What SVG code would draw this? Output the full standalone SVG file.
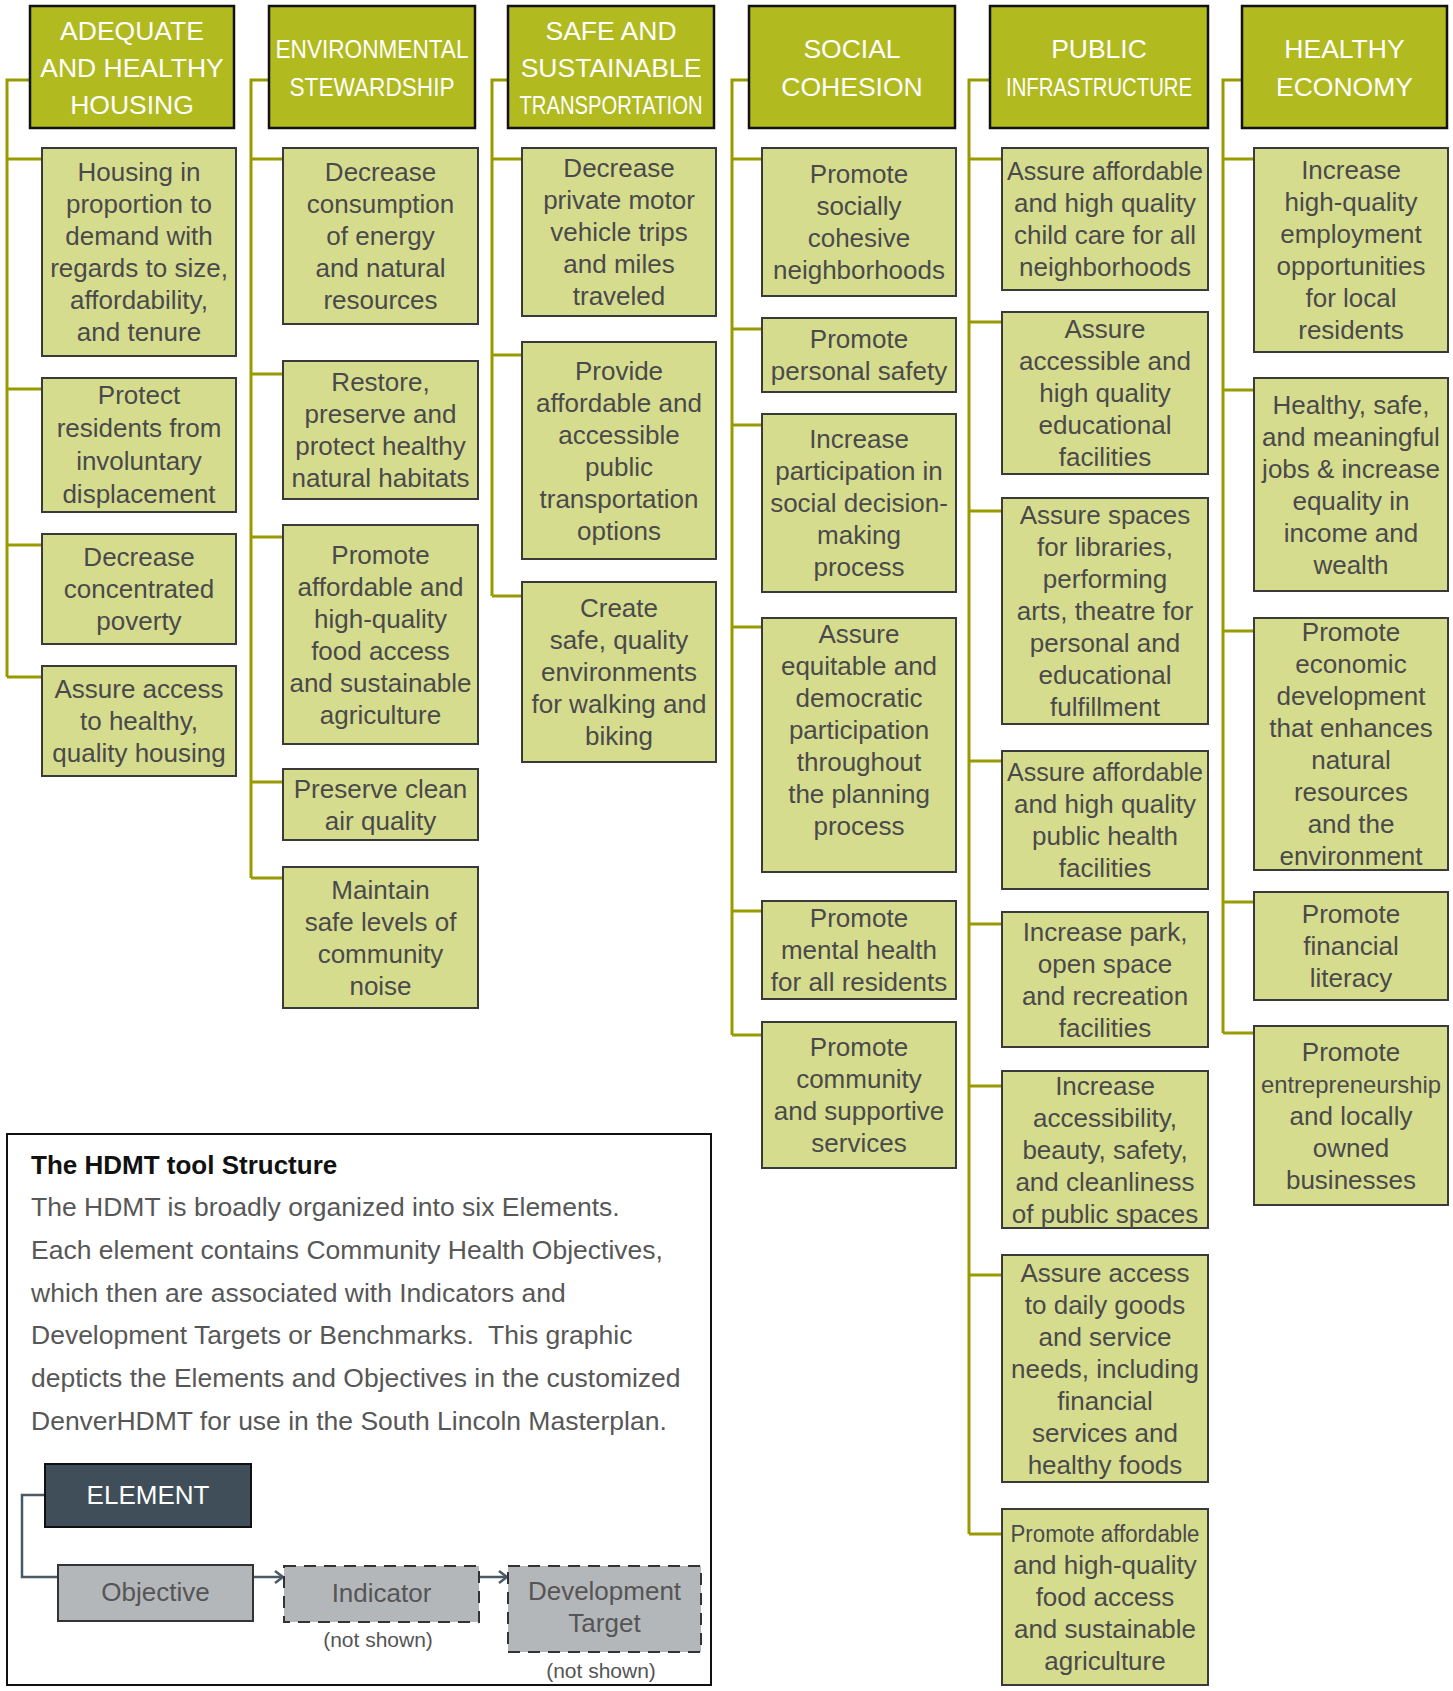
<svg xmlns="http://www.w3.org/2000/svg" width="1453" height="1691" viewBox="0 0 1453 1691">
<style>
text{font-family:"Liberation Sans",Arial,sans-serif;text-anchor:middle}
.hdr{fill:#b1ba1f;stroke:#111;stroke-width:2.5}
.obj{fill:#d6dc8e;stroke:#3a3a3a;stroke-width:2}
.ht{fill:#fff;font-size:26.5px}
.ot{fill:#4a4a4a;font-size:26px}
.conn{fill:none;stroke:#999900;stroke-width:3}
.lg{fill:none;stroke:#4a5a64;stroke-width:2.5}
.lt{fill:#575757;font-size:26.5px;text-anchor:start}
</style>
<defs>
<marker id="chev" markerWidth="12" markerHeight="14" refX="10" refY="7" orient="auto" markerUnits="userSpaceOnUse">
<path d="M2,1 L10,7 L2,13" fill="none" stroke="#4a5a64" stroke-width="2.5"/>
</marker>
</defs>
<rect width="1453" height="1691" fill="#fff"/>

<g id="connectors" class="conn">
<path d="M30,80 H7 V677 M7,159 H42 M7,389 H42 M7,545 H42 M7,677 H42"/>
<path d="M269,80 H251 V878 M251,159 H283 M251,374 H283 M251,537 H283 M251,782 H283 M251,878 H283"/>
<path d="M508,80 H492 V596 M492,159 H522 M492,355 H522 M492,596 H522"/>
<path d="M749,80 H732 V1035 M732,159 H762 M732,329 H762 M732,425 H762 M732,627 H762 M732,911 H762 M732,1035 H762"/>
<path d="M990,80 H969 V1534 M969,159 H1002 M969,322 H1002 M969,511 H1002 M969,761 H1002 M969,924 H1002 M969,1086 H1002 M969,1275 H1002 M969,1534 H1002"/>
<path d="M1242,80 H1223 V1033 M1223,159 H1254 M1223,390 H1254 M1223,631 H1254 M1223,902 H1254 M1223,1033 H1254"/>
</g>

<!-- Column 1 -->
<g id="h1"><rect class="hdr" x="30" y="6" width="204" height="122"/>
<text class="ht"><tspan x="132" y="40">ADEQUATE</tspan><tspan x="132" y="77">AND HEALTHY</tspan><tspan x="132" y="114">HOUSING</tspan></text></g>
<g id="o1-1"><rect class="obj" x="42" y="148" width="194" height="208"/>
<text class="ot"><tspan x="139" y="181">Housing in</tspan><tspan x="139" y="213">proportion to</tspan><tspan x="139" y="245">demand with</tspan><tspan x="139" y="277">regards to size,</tspan><tspan x="139" y="309">affordability,</tspan><tspan x="139" y="341">and tenure</tspan></text></g>
<g id="o1-2"><rect class="obj" x="42" y="378" width="194" height="134"/>
<text class="ot"><tspan x="139" y="404">Protect</tspan><tspan x="139" y="437">residents from</tspan><tspan x="139" y="470">involuntary</tspan><tspan x="139" y="503">displacement</tspan></text></g>
<g id="o1-3"><rect class="obj" x="42" y="534" width="194" height="110"/>
<text class="ot"><tspan x="139" y="566">Decrease</tspan><tspan x="139" y="598">concentrated</tspan><tspan x="139" y="630">poverty</tspan></text></g>
<g id="o1-4"><rect class="obj" x="42" y="666" width="194" height="110"/>
<text class="ot"><tspan x="139" y="698">Assure access</tspan><tspan x="139" y="730">to healthy,</tspan><tspan x="139" y="762">quality housing</tspan></text></g>

<!-- Column 2 -->
<g id="h2"><rect class="hdr" x="269" y="6" width="206" height="122"/>
<text class="ht"><tspan x="372" y="58" textLength="193" lengthAdjust="spacingAndGlyphs">ENVIRONMENTAL</tspan></text>
<text class="ht"><tspan x="372" y="96" textLength="165" lengthAdjust="spacingAndGlyphs">STEWARDSHIP</tspan></text></g>
<g id="o2-1"><rect class="obj" x="283" y="148" width="195" height="176"/>
<text class="ot"><tspan x="380.5" y="181">Decrease</tspan><tspan x="380.5" y="213">consumption</tspan><tspan x="380.5" y="245">of energy</tspan><tspan x="380.5" y="277">and natural</tspan><tspan x="380.5" y="309">resources</tspan></text></g>
<g id="o2-2"><rect class="obj" x="283" y="361" width="195" height="138"/>
<text class="ot"><tspan x="380.5" y="391">Restore,</tspan><tspan x="380.5" y="423">preserve and</tspan><tspan x="380.5" y="455">protect healthy</tspan><tspan x="380.5" y="487">natural habitats</tspan></text></g>
<g id="o2-3"><rect class="obj" x="283" y="525" width="195" height="219"/>
<text class="ot"><tspan x="380.5" y="563.5">Promote</tspan><tspan x="380.5" y="595.5">affordable and</tspan><tspan x="380.5" y="627.5">high-quality</tspan><tspan x="380.5" y="659.5">food access</tspan><tspan x="380.5" y="691.5">and sustainable</tspan><tspan x="380.5" y="723.5">agriculture</tspan></text></g>
<g id="o2-4"><rect class="obj" x="283" y="769" width="195" height="71"/>
<text class="ot"><tspan x="380.5" y="797.5">Preserve clean</tspan><tspan x="380.5" y="829.5">air quality</tspan></text></g>
<g id="o2-5"><rect class="obj" x="283" y="867" width="195" height="141"/>
<text class="ot"><tspan x="380.5" y="898.5">Maintain</tspan><tspan x="380.5" y="930.5">safe levels of</tspan><tspan x="380.5" y="962.5">community</tspan><tspan x="380.5" y="994.5">noise</tspan></text></g>

<!-- Column 3 -->
<g id="h3"><rect class="hdr" x="508" y="6" width="206" height="122"/>
<text class="ht"><tspan x="611" y="40">SAFE AND</tspan><tspan x="611" y="77">SUSTAINABLE</tspan></text>
<text class="ht"><tspan x="611" y="114" textLength="183" lengthAdjust="spacingAndGlyphs">TRANSPORTATION</tspan></text></g>
<g id="o3-1"><rect class="obj" x="522" y="148" width="194" height="168"/>
<text class="ot"><tspan x="619" y="177">Decrease</tspan><tspan x="619" y="209">private motor</tspan><tspan x="619" y="241">vehicle trips</tspan><tspan x="619" y="273">and miles</tspan><tspan x="619" y="305">traveled</tspan></text></g>
<g id="o3-2"><rect class="obj" x="522" y="342" width="194" height="217"/>
<text class="ot"><tspan x="619" y="379.5">Provide</tspan><tspan x="619" y="411.5">affordable and</tspan><tspan x="619" y="443.5">accessible</tspan><tspan x="619" y="475.5">public</tspan><tspan x="619" y="507.5">transportation</tspan><tspan x="619" y="539.5">options</tspan></text></g>
<g id="o3-3"><rect class="obj" x="522" y="582" width="194" height="180"/>
<text class="ot"><tspan x="619" y="617">Create</tspan><tspan x="619" y="649">safe, quality</tspan><tspan x="619" y="681">environments</tspan><tspan x="619" y="713">for walking and</tspan><tspan x="619" y="745">biking</tspan></text></g>

<!-- Column 4 -->
<g id="h4"><rect class="hdr" x="749" y="6" width="206" height="122"/>
<text class="ht"><tspan x="852" y="58">SOCIAL</tspan><tspan x="852" y="96">COHESION</tspan></text></g>
<g id="o4-1"><rect class="obj" x="762" y="148" width="194" height="148"/>
<text class="ot"><tspan x="859" y="183">Promote</tspan><tspan x="859" y="215">socially</tspan><tspan x="859" y="247">cohesive</tspan><tspan x="859" y="279">neighborhoods</tspan></text></g>
<g id="o4-2"><rect class="obj" x="762" y="318" width="194" height="74"/>
<text class="ot"><tspan x="859" y="348">Promote</tspan><tspan x="859" y="380">personal safety</tspan></text></g>
<g id="o4-3"><rect class="obj" x="762" y="414" width="194" height="178"/>
<text class="ot"><tspan x="859" y="448">Increase</tspan><tspan x="859" y="480">participation in</tspan><tspan x="859" y="512">social decision-</tspan><tspan x="859" y="544">making</tspan><tspan x="859" y="576">process</tspan></text></g>
<g id="o4-4"><rect class="obj" x="762" y="618" width="194" height="254"/>
<text class="ot"><tspan x="859" y="643">Assure</tspan><tspan x="859" y="675">equitable and</tspan><tspan x="859" y="707">democratic</tspan><tspan x="859" y="739">participation</tspan><tspan x="859" y="771">throughout</tspan><tspan x="859" y="803">the planning</tspan><tspan x="859" y="835">process</tspan></text></g>
<g id="o4-5"><rect class="obj" x="762" y="901" width="194" height="98"/>
<text class="ot"><tspan x="859" y="927">Promote</tspan><tspan x="859" y="959">mental health</tspan><tspan x="859" y="991">for all residents</tspan></text></g>
<g id="o4-6"><rect class="obj" x="762" y="1022" width="194" height="146"/>
<text class="ot"><tspan x="859" y="1056">Promote</tspan><tspan x="859" y="1088">community</tspan><tspan x="859" y="1120">and supportive</tspan><tspan x="859" y="1152">services</tspan></text></g>

<!-- Column 5 -->
<g id="h5"><rect class="hdr" x="990" y="6" width="218" height="122"/>
<text class="ht"><tspan x="1099" y="58">PUBLIC</tspan></text>
<text class="ht"><tspan x="1099" y="96" textLength="186" lengthAdjust="spacingAndGlyphs">INFRASTRUCTURE</tspan></text></g>
<g id="o5-1"><rect class="obj" x="1002" y="148" width="206" height="142"/>
<text class="ot"><tspan x="1105" y="180" textLength="196" lengthAdjust="spacingAndGlyphs">Assure affordable</tspan></text>
<text class="ot"><tspan x="1105" y="212">and high quality</tspan><tspan x="1105" y="244">child care for all</tspan><tspan x="1105" y="276">neighborhoods</tspan></text></g>
<g id="o5-2"><rect class="obj" x="1002" y="312" width="206" height="162"/>
<text class="ot"><tspan x="1105" y="338">Assure</tspan><tspan x="1105" y="370">accessible and</tspan><tspan x="1105" y="402">high quality</tspan><tspan x="1105" y="434">educational</tspan><tspan x="1105" y="466">facilities</tspan></text></g>
<g id="o5-3"><rect class="obj" x="1002" y="498" width="206" height="226"/>
<text class="ot"><tspan x="1105" y="524">Assure spaces</tspan><tspan x="1105" y="556">for libraries,</tspan><tspan x="1105" y="588">performing</tspan><tspan x="1105" y="620">arts, theatre for</tspan><tspan x="1105" y="652">personal and</tspan><tspan x="1105" y="684">educational</tspan><tspan x="1105" y="716">fulfillment</tspan></text></g>
<g id="o5-4"><rect class="obj" x="1002" y="751" width="206" height="138"/>
<text class="ot"><tspan x="1105" y="781" textLength="196" lengthAdjust="spacingAndGlyphs">Assure affordable</tspan></text>
<text class="ot"><tspan x="1105" y="813">and high quality</tspan><tspan x="1105" y="845">public health</tspan><tspan x="1105" y="877">facilities</tspan></text></g>
<g id="o5-5"><rect class="obj" x="1002" y="912" width="206" height="135"/>
<text class="ot"><tspan x="1105" y="940.5">Increase park,</tspan><tspan x="1105" y="972.5">open space</tspan><tspan x="1105" y="1004.5">and recreation</tspan><tspan x="1105" y="1036.5">facilities</tspan></text></g>
<g id="o5-6"><rect class="obj" x="1002" y="1071" width="206" height="157"/>
<text class="ot"><tspan x="1105" y="1094.5">Increase</tspan><tspan x="1105" y="1126.5">accessibility,</tspan><tspan x="1105" y="1158.5">beauty, safety,</tspan><tspan x="1105" y="1190.5">and cleanliness</tspan><tspan x="1105" y="1222.5">of public spaces</tspan></text></g>
<g id="o5-7"><rect class="obj" x="1002" y="1255" width="206" height="227"/>
<text class="ot"><tspan x="1105" y="1281.5">Assure access</tspan><tspan x="1105" y="1313.5">to daily goods</tspan><tspan x="1105" y="1345.5">and service</tspan><tspan x="1105" y="1377.5">needs, including</tspan><tspan x="1105" y="1409.5">financial</tspan><tspan x="1105" y="1441.5">services and</tspan><tspan x="1105" y="1473.5">healthy foods</tspan></text></g>
<g id="o5-8"><rect class="obj" x="1002" y="1509" width="206" height="176"/>
<text class="ot" style="font-size:23.5px"><tspan x="1105" y="1542" textLength="189" lengthAdjust="spacingAndGlyphs">Promote affordable</tspan></text>
<text class="ot"><tspan x="1105" y="1574">and high-quality</tspan><tspan x="1105" y="1606">food access</tspan><tspan x="1105" y="1638">and sustainable</tspan><tspan x="1105" y="1670">agriculture</tspan></text></g>

<!-- Column 6 -->
<g id="h6"><rect class="hdr" x="1242" y="6" width="205" height="122"/>
<text class="ht"><tspan x="1344.5" y="58">HEALTHY</tspan><tspan x="1344.5" y="96">ECONOMY</tspan></text></g>
<g id="o6-1"><rect class="obj" x="1254" y="148" width="194" height="204"/>
<text class="ot"><tspan x="1351" y="179">Increase</tspan><tspan x="1351" y="211">high-quality</tspan><tspan x="1351" y="243">employment</tspan><tspan x="1351" y="275">opportunities</tspan><tspan x="1351" y="307">for local</tspan><tspan x="1351" y="339">residents</tspan></text></g>
<g id="o6-2"><rect class="obj" x="1254" y="378" width="194" height="213"/>
<text class="ot"><tspan x="1351" y="413.5">Healthy, safe,</tspan><tspan x="1351" y="445.5">and meaningful</tspan><tspan x="1351" y="477.5">jobs &amp; increase</tspan><tspan x="1351" y="509.5">equality in</tspan><tspan x="1351" y="541.5">income and</tspan><tspan x="1351" y="573.5">wealth</tspan></text></g>
<g id="o6-3"><rect class="obj" x="1254" y="618" width="194" height="252"/>
<text class="ot"><tspan x="1351" y="641">Promote</tspan><tspan x="1351" y="673">economic</tspan><tspan x="1351" y="705">development</tspan><tspan x="1351" y="737">that enhances</tspan><tspan x="1351" y="769">natural</tspan><tspan x="1351" y="801">resources</tspan><tspan x="1351" y="833">and the</tspan><tspan x="1351" y="865">environment</tspan></text></g>
<g id="o6-4"><rect class="obj" x="1254" y="892" width="194" height="108"/>
<text class="ot"><tspan x="1351" y="923">Promote</tspan><tspan x="1351" y="955">financial</tspan><tspan x="1351" y="987">literacy</tspan></text></g>
<g id="o6-5"><rect class="obj" x="1254" y="1026" width="194" height="179"/>
<text class="ot"><tspan x="1351" y="1060.5">Promote</tspan></text>
<text class="ot" style="font-size:24px"><tspan x="1351" y="1092.5" textLength="180" lengthAdjust="spacingAndGlyphs">entrepreneurship</tspan></text>
<text class="ot"><tspan x="1351" y="1124.5">and locally</tspan><tspan x="1351" y="1156.5">owned</tspan><tspan x="1351" y="1188.5">businesses</tspan></text></g>

<!-- Legend -->
<g id="legend">
<rect x="7" y="1134" width="704" height="551" fill="#fff" stroke="#111" stroke-width="2"/>
<text x="31" y="1174" style="font-size:26px;font-weight:bold;fill:#111;text-anchor:start">The HDMT tool Structure</text>
<text class="lt"><tspan x="31" y="1216">The HDMT is broadly organized into six Elements.</tspan><tspan x="31" y="1259">Each element contains Community Health Objectives,</tspan><tspan x="31" y="1302">which then are associated with Indicators and</tspan><tspan x="31" y="1344" xml:space="preserve">Development Targets or Benchmarks.  This graphic</tspan><tspan x="31" y="1387">depticts the Elements and Objectives in the customized</tspan><tspan x="31" y="1430">DenverHDMT for use in the South Lincoln Masterplan.</tspan></text>
</g>
<g id="legend-links">
<path class="lg" d="M45,1495 H22 V1577 H58"/>
<path class="lg" d="M253,1577 H283" marker-end="url(#chev)"/>
<path class="lg" d="M479,1577 H507" marker-end="url(#chev)"/>
</g>
<g id="lg-element"><rect x="45" y="1464" width="206" height="63" fill="#3f4e58" stroke="#111" stroke-width="2"/>
<text x="148" y="1504" style="font-size:26px;fill:#fff">ELEMENT</text></g>
<g id="lg-objective"><rect x="58" y="1565" width="195" height="56" fill="#b4b7ba" stroke="#333" stroke-width="2"/>
<text x="155.5" y="1601" style="font-size:26px;fill:#555">Objective</text></g>
<g id="lg-indicator"><rect x="284" y="1566" width="195" height="56" fill="#b4b7ba" stroke="#333" stroke-width="2" stroke-dasharray="12,8"/>
<text x="381.5" y="1602" style="font-size:26px;fill:#555">Indicator</text>
<text x="378" y="1647" style="font-size:21px;fill:#555">(not shown)</text></g>
<g id="lg-target"><rect x="508" y="1566" width="193" height="86" fill="#b4b7ba" stroke="#333" stroke-width="2" stroke-dasharray="12,8"/>
<text style="font-size:26px;fill:#555"><tspan x="604.5" y="1600">Development</tspan><tspan x="604.5" y="1632">Target</tspan></text>
<text x="601" y="1678" style="font-size:21px;fill:#555">(not shown)</text></g>
</svg>
